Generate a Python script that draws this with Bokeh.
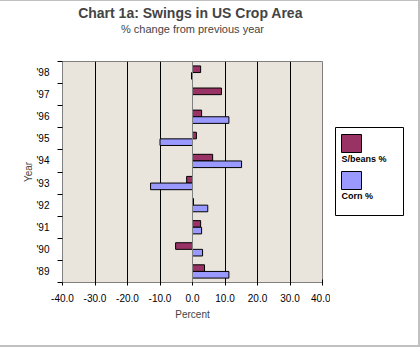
from bokeh.plotting import figure
from bokeh.models import Range1d, FixedTicker, NumeralTickFormatter, Span, Title
from bokeh.layouts import row
from bokeh.core.properties import value
from bokeh.embed import file_html
from bokeh.resources import INLINE
import numpy as np

years = ["'89", "'90", "'91", "'92", "'93", "'94", "'95", "'96", "'97", "'98"]
soy = [3.7, -5.2, 2.5, 0.3, -1.8, 6.2, 1.2, 2.8, 8.9, 2.5]
corn = [11.2, 3.1, 2.8, 4.7, -12.9, 15.1, -10.0, 11.2, 0.0, -0.3]
series_names = ["S/beans %", "Corn %"]
x_ticks = [-40, -30, -20, -10, 0, 10, 20, 30, 40]

SOY_COLOR = "#993366"
CORN_COLOR = "#9999FF"
BG = "#E9E5DD"
FONT = "Liberation Sans"

n = len(years)
centers = np.arange(n) + 0.5

p = figure(width=330, height=344, output_backend="svg", toolbar_location=None,
           x_range=Range1d(-40, 40), y_range=Range1d(0, n),
           min_border_left=62, min_border_right=8, min_border_top=60,
           min_border_bottom=63, title=None, sizing_mode="fixed")
p.background_fill_color = BG
p.border_fill_color = "white"
p.outline_line_color = "#808080"

p.hbar(y=centers + 0.15, right=soy, left=0, height=0.3,
       fill_color=SOY_COLOR, line_color="black", line_width=1)
p.hbar(y=centers - 0.15, right=corn, left=0, height=0.3,
       fill_color=CORN_COLOR, line_color="black", line_width=1)

p.add_layout(Span(location=0, dimension="height", line_color="#808080", line_width=1))

# grid
p.ygrid.visible = False
p.xgrid.ticker = FixedTicker(ticks=[t for t in x_ticks if t not in (-40, 0, 40)])
p.xgrid.grid_line_color = "black"
p.xgrid.grid_line_width = 1

# x axis
xa = p.xaxis[0]
xa.ticker = FixedTicker(ticks=x_ticks)
xa.formatter = NumeralTickFormatter(format="0.0")
xa.axis_line_color = "#808080"
xa.major_tick_line_color = "black"
xa.major_tick_in = 3
xa.major_tick_out = 3
xa.minor_tick_line_color = None
xa.major_label_text_font = FONT
xa.major_label_text_font_size = "10px"
xa.major_label_text_color = "black"
xa.major_label_standoff = 8
xa.axis_label = "Percent"
xa.axis_label_text_font = FONT
xa.axis_label_text_font_size = "10px"
xa.axis_label_text_font_style = "normal"
xa.axis_label_standoff = 4

# y axis
ya = p.yaxis[0]
ya.ticker = FixedTicker(ticks=list(centers), minor_ticks=list(range(n + 1)))
ya.major_label_overrides = {float(c): y for c, y in zip(centers, years)}
ya.major_tick_in = 0
ya.major_tick_out = 0
ya.minor_tick_in = 0
ya.minor_tick_out = 5
ya.minor_tick_line_color = "black"
ya.axis_line_color = "#808080"
ya.major_label_text_font = FONT
ya.major_label_text_font_size = "10px"
ya.major_label_text_color = "black"
ya.major_label_standoff = 8
ya.axis_label = "Year"
ya.axis_label_text_font = FONT
ya.axis_label_text_font_size = "10px"
ya.axis_label_text_font_style = "normal"
ya.axis_label_standoff = -1

# titles (first added is closest to the plot)
p.add_layout(Title(text=" ", text_font_size="13px", align="center"), "above")
p.add_layout(Title(text="% change from previous year", text_font=FONT,
                   text_font_size="11px", text_font_style="normal",
                   align="center", standoff=0, offset=3), "above")
p.add_layout(Title(text="Chart  1a: Swings in US Crop Area", text_font=FONT,
                   text_font_size="14px", text_font_style="bold",
                   align="center", standoff=0, offset=3), "above")

# legend panel (its frame is aligned with the chart's frame by the row)
leg = figure(width=88, height=344, output_backend="svg", toolbar_location=None,
             x_range=Range1d(330, 418), y_range=Range1d(282, 61),
             min_border=0, min_border_left=0, min_border_right=0,
             min_border_top=60, min_border_bottom=63,
             title=None, sizing_mode="fixed")
leg.axis.visible = False
leg.grid.visible = False
leg.outline_line_color = None
leg.background_fill_color = "white"
leg.border_fill_color = "white"
leg.quad(left=[335], right=[403], top=[127], bottom=[215],
         fill_color="white", line_color="black", line_width=1)
leg.quad(left=[341, 341], right=[361, 361], top=[134, 171], bottom=[152, 189],
         fill_color=[SOY_COLOR, CORN_COLOR], line_color="black", line_width=1)
leg.text(x=[341, 341], y=[158, 195], text=series_names,
         text_font=value(FONT), text_font_style="bold", text_font_size="9px",
         text_baseline="middle", text_align="left", text_color="black")

layout = row(p, leg, styles={"border-top": "1px solid #C0C0C0",
                             "border-right": "2px solid #C0C0C0",
                             "border-bottom": "2px solid #C0C0C0"})

open("out.html", "w").write(file_html(layout, INLINE))
